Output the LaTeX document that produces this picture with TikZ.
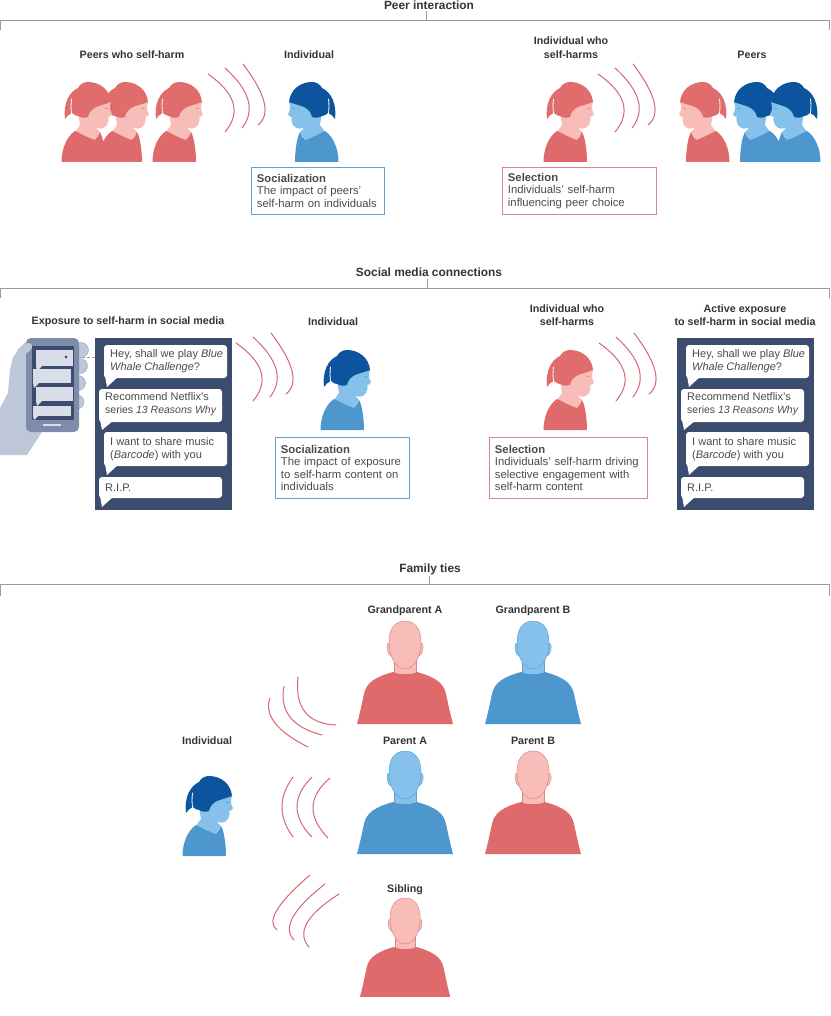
\documentclass[tikz,border=0pt]{standalone}
\usepackage{fontspec}
\usetikzlibrary{calc}
\setmainfont{Liberation Sans}
\definecolor{redshirt}{HTML}{DF6A6B}
\definecolor{redskin}{HTML}{F8BDB9}
\definecolor{redhair}{HTML}{E06C6C}
\definecolor{redline}{HTML}{D9868A}
\definecolor{blueshirt}{HTML}{4E97CE}
\definecolor{blueskin}{HTML}{85C1EA}
\definecolor{bluehair}{HTML}{0C559E}
\definecolor{blueline}{HTML}{5FA3D6}
\definecolor{navy}{HTML}{3B4C6E}
\definecolor{handgrey}{HTML}{BEC7D8}
\definecolor{screengrey}{HTML}{D8DDE7}
\definecolor{phonegrey}{HTML}{7E8BAA}
\definecolor{ink}{HTML}{333338}
\definecolor{bodyink}{HTML}{4A4A50}
\definecolor{rule}{HTML}{9A9A9A}
\definecolor{wavered}{HTML}{D4666E}
% One signal arc: start point, bend point, end point of a quadratic curve
\newcommand{\wavearc}[3]{\draw[wave] (#1) .. controls ($(#1)!0.667!(#2)$) and ($(#3)!0.667!(#2)$) .. (#3);}
\tikzset{
  heading/.style={font=\bfseries\fontsize{10.7}{13.6}\selectfont, text=ink, align=center, inner sep=0pt},
  sectionhead/.style={font=\bfseries\fontsize{11.9}{14}\selectfont, text=ink, align=center, inner sep=0pt},
  infobox/.style={draw=#1, line width=0.9pt, fill=white, anchor=north west, align=left, inner xsep=5.5pt, inner ysep=0pt,
    font=\fontsize{11.3}{12.5}\selectfont, text=bodyink},
  wave/.style={draw=wavered, line width=1pt, line cap=round},
  bubbletext/.style={anchor=west, align=left, inner sep=0pt, font=\fontsize{11}{12.8}\selectfont, text=bodyink},
  bubble/.style={fill=white, rounded corners=3pt},
  bracketline/.style={draw=rule, line width=0.7pt},
  finger/.style={fill=handgrey, draw=phonegrey!70, line width=0.5pt},
  % Child in profile, facing right; origin at the top-left of the figure
  pics/kid/.style={code={
    \fill[#1skin] (17,30) -- (19,43) -- (14,50) -- (34,58) -- (39,50) -- (35,46)
      .. controls (38,47) and (42,47) .. (44,45) .. controls (46,43) and (47,42) .. (47,40)
      .. controls (48,38) and (48,37) .. (47,35.5) .. controls (49,34.5) and (51.5,33) .. (51,32)
      .. controls (49,29) and (48,25) .. (50,20) -- (30,10) -- cycle;
    \fill[#1shirt] (0.5,80) .. controls (0.5,68) and (5,55) .. (14,49) .. controls (20,52) and (28,56) .. (34,58)
      .. controls (36,56) and (38,53) .. (39,50) .. controls (42,55) and (44,68) .. (44,80) -- cycle;
    \fill[#1hair] (50,20) .. controls (49,8) and (39,0) .. (27,0) .. controls (23,0) and (19,2) .. (17,6)
      .. controls (8,10) and (2,22) .. (4,37) .. controls (6,34) and (8,32) .. (11,31)
      .. controls (13,33) and (15,34) .. (17,34) .. controls (20,36) and (24,36) .. (27,35)
      .. controls (28,30) and (31,27) .. (35,25) .. controls (40,23) and (45,22) .. (50,20) -- cycle;
    \draw[white, line width=0.8pt, line cap=round] (10.5,17) .. controls (9.8,22) and (10,28) .. (10.6,32);
    \draw[#1shirt, line width=0.5pt, opacity=0.6] (44,26.5) -- (47,26.5);
  }},
  % Adult seen from the front; origin at the top-left of the figure
  pics/adult/.style={code={
    \filldraw[fill=#1skin, draw=#1line, line width=0.5pt]
      (32,22) .. controls (29,21) and (29,33) .. (34,35) -- (62,35) .. controls (67,33) and (67,21) .. (64,22) -- cycle;
    \filldraw[fill=#1skin, draw=#1line, line width=0.5pt] (37,38) -- (37,56) -- (59,56) -- (59,38) -- cycle;
    \fill[#1shirt] (0,103) .. controls (3,92) and (5,82) .. (7,73) .. controls (9,62) and (18,56) .. (36,51)
      .. controls (41,54) and (55,54) .. (60,51) .. controls (78,56) and (87,62) .. (89,73)
      .. controls (91,82) and (93,92) .. (96,103) -- cycle;
    \filldraw[fill=#1skin, draw=#1line, line width=0.5pt] (48,0) .. controls (58,0) and (64,8) .. (64,21)
      .. controls (64,32) and (60,42) .. (54,46) .. controls (50,48.5) and (46,48.5) .. (42,46)
      .. controls (36,42) and (32,32) .. (32,21) .. controls (32,8) and (38,0) .. (48,0) -- cycle;
  }},
  % Three concentric signal arcs spreading to the right
  pics/signal/.style={code={
    \wavearc{0,10}{41.5,39}{17,68}
    \wavearc{17,4}{54.5,38}{34,64}
    \wavearc{35,0}{69.5,45.5}{50,61}
  }},
  % Dark panel holding the four chat messages
  pics/chatpanel/.style={code={
    \fill[navy] (0,0) rectangle (137,172);
    \fill[bubble] (9,7) rectangle (132,40);
    \fill[white] (10,38) -- (12,49) -- (24,38) -- cycle;
    \fill[bubble] (4,51) rectangle (127,84);
    \fill[white] (5,82) -- (7,92) -- (19,82) -- cycle;
    \fill[bubble] (9,94) rectangle (132,128);
    \fill[white] (10,126) -- (12,137) -- (24,126) -- cycle;
    \fill[bubble] (4,139) rectangle (127,160);
    \fill[white] (5,158) -- (7,169) -- (19,158) -- cycle;
    \node[bubbletext] (msgA) at (15,23.5) {Hey, shall we play \textit{Blue}\\\textit{Whale Challenge}?};
    \node[bubbletext] (msgB) at (10,66.5) {Recommend Netflix's\\\fontsize{10.5}{12.8}\selectfont series \textit{13 Reasons Why}};
    \node[bubbletext] (msgC) at (15,111) {I want to share music\\(\textit{Barcode}) with you};
    \node[bubbletext] (msgD) at (10,150) {R.I.P.};
  }},
}
\begin{document}
\begin{tikzpicture}[x=1pt,y=-1pt]
\useasboundingbox (0,0) rectangle (830,1016);

% Section headings with their brackets
\node[sectionhead] (peerhead) at (429,5) {Peer interaction};
\node[sectionhead] (mediahead) at (429,272.5) {Social media connections};
\node[sectionhead] (familyhead) at (430,569.5) {Family ties};
\coordinate (peertick) at (426,11);
\coordinate (mediatick) at (427,279);
\coordinate (familytick) at (429,576);
\draw[bracketline] (0.4,30) |- (829.6,20) -- (829.6,30);
\draw[bracketline] (peertick) -- (426,20);
\draw[bracketline] (0.4,298) |- (829.6,288) -- (829.6,298);
\draw[bracketline] (mediatick) -- (427,288);
\draw[bracketline] (0.4,596) |- (829.6,584) -- (829.6,596);
\draw[bracketline] (familytick) -- (429,584);

% Peer interaction: socialization
\node[heading] (lblPeers) at (132,54.5) {Peers who self-harm};
\node[heading] (lblInd) at (309,54.5) {Individual};
\pic at (98,82) {kid=red};
\pic at (61,82) {kid=red};
\pic at (152,82) {kid=red};
\pic[xscale=-1] at (339,82) {kid=blue};
\pic at (208,64) {signal};
\node[infobox=blueline, text width=122pt, minimum height=47pt] (boxSocA) at (251,167)
  {\textbf{Socialization}\\The impact of peers'\\self-harm on individuals};

% Peer interaction: selection
\node[heading] (lblIndSelf) at (571,47.5) {Individual who\\self-harms};
\node[heading] (lblPeersB) at (752,54.5) {Peers};
\pic at (543,82) {kid=red};
\pic[xscale=-1] at (730,82) {kid=red};
\pic[xscale=-1] at (784,82) {kid=blue};
\pic[xscale=-1] at (821,82) {kid=blue};
\pic at (598,64) {signal};
\node[infobox=redline, text width=143pt, minimum height=47pt] (boxSelA) at (502,167)
  {\textbf{Selection}\\Individuals' self-harm\\influencing peer choice};

% Social media: hand holding a phone
\fill[handgrey] (0,408) -- (8,393) -- (10,370) -- (13,357) -- (25,342) -- (60,400) -- (42,432) -- (27,455) -- (0,455) -- cycle;
\filldraw[finger] (81,350) circle (7.5pt);
\filldraw[finger] (80,366) circle (7.5pt);
\filldraw[finger] (78,383) circle (7.5pt);
\filldraw[finger] (77,402) circle (7pt);
\fill[phonegrey, rounded corners=5pt] (26,338) rectangle (79,432);
\fill[navy] (32,346) rectangle (74,420);
\fill[screengrey] (36,350) rectangle (73,366);
\fill[screengrey] (36,366) -- (37,371) -- (42,366) -- cycle;
\fill[screengrey] (33,369) rectangle (71,383);
\fill[screengrey] (33,383) -- (34,388) -- (39,383) -- cycle;
\fill[screengrey] (36,387) rectangle (73,401);
\fill[screengrey] (36,401) -- (37,406) -- (42,401) -- cycle;
\fill[screengrey] (33,406) rectangle (71,416);
\fill[screengrey] (33,416) -- (34,420) -- (38,416) -- cycle;
\fill[screengrey] (43,423.5) rectangle (61,426);
\fill[handgrey] (17,351) .. controls (22,343) and (30,341) .. (32,345) .. controls (33,349) and (28,353) .. (22,356) -- cycle;
\coordinate (screenDot) at (66,357);
\fill[black!80] (screenDot) circle (1.4pt);
\coordinate (panelEdge) at (95,357);
\draw[rule, line width=0.8pt, dash pattern=on 3pt off 2pt] (82,357) -- (panelEdge);

% Social media: socialization
\node[heading] (lblExpo) at (128,321.5) {Exposure to self-harm in social media};
\node[heading] (lblIndB) at (333,321.5) {Individual};
\pic at (95,338) {chatpanel};
\pic at (320,350) {kid=blue};
\pic at (236,333) {signal};
\node[infobox=blueline, text width=123pt, minimum height=61pt] (boxSocB) at (275,437)
  {\textbf{Socialization}\\The impact of exposure\\to self-harm content on\\individuals};

% Social media: selection
\node[heading] (lblIndSelfB) at (567,315) {Individual who\\self-harms};
\node[heading] (lblActive) at (745,315) {Active exposure\\to self-harm in social media};
\pic at (677,338) {chatpanel};
\pic at (543,350) {kid=red};
\pic at (599,333) {signal};
\node[infobox=redline, text width=147pt, minimum height=61pt] (boxSelB) at (489,437)
  {\textbf{Selection}\\Individuals' self-harm driving\\selective engagement with\\self-harm content};

% Family ties
\node[heading] (lblGpA) at (405,611) {Grandparent A};
\node[heading] (lblGpB) at (533,611) {Grandparent B};
\node[heading] (lblIndC) at (207,741) {Individual};
\node[heading] (lblPA) at (405,741) {Parent A};
\node[heading] (lblPB) at (533,741) {Parent B};
\node[heading] (lblSib) at (405,890) {Sibling};
\pic at (357,621) {adult=red};
\pic at (485,621) {adult=blue};
\pic at (357,751) {adult=blue};
\pic at (485,751) {adult=red};
\pic[xscale=0.94, yscale=0.96] at (360,898) {adult=red};
\pic at (182,776) {kid=blue};

\wavearc{336,725}{293,723}{298,677}
\wavearc{322,735}{277,723.5}{284,686}
\wavearc{308,747}{261,723.5}{270,698}
\wavearc{330,778}{297,806}{328,838}
\wavearc{312,777}{282,807}{312,837}
\wavearc{293,777}{271,807}{293,837}
\wavearc{339,894}{290,925.5}{309,947}
\wavearc{325,884}{276.5,922}{294,940}
\wavearc{310,875}{260.5,917.5}{277,930}
\end{tikzpicture}
\end{document}
